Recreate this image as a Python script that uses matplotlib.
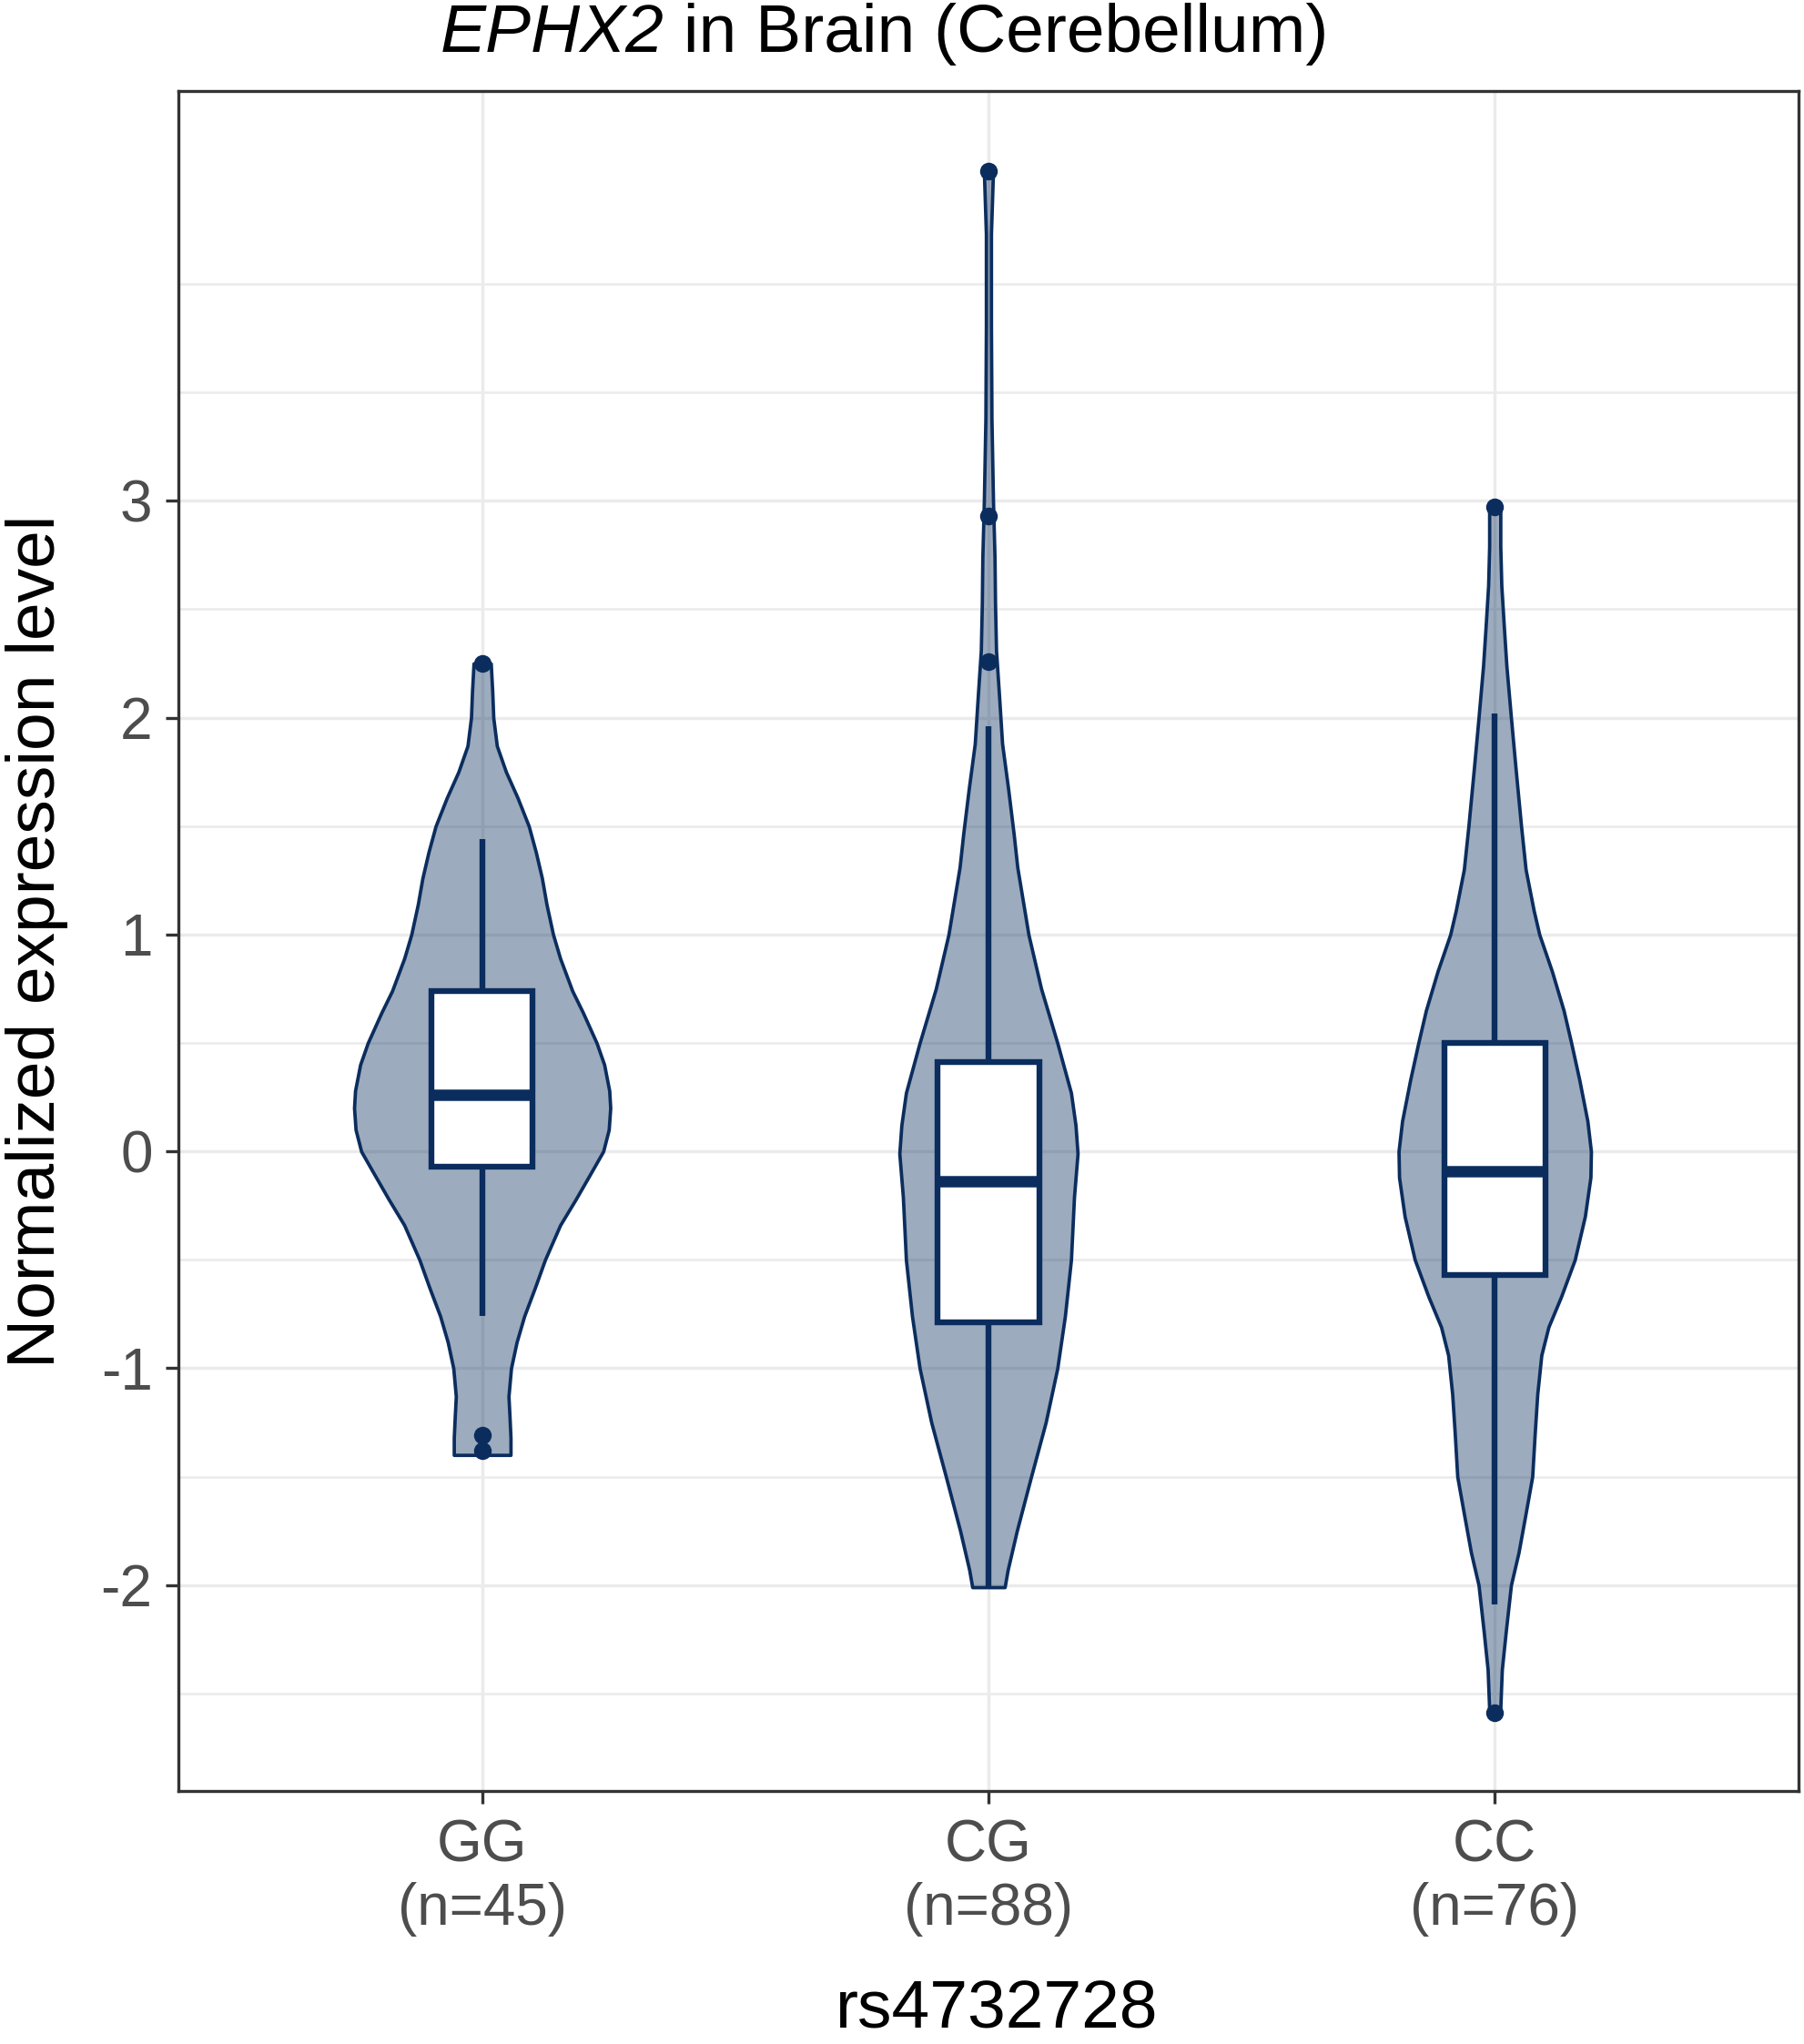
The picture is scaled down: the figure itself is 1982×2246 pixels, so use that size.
import numpy as np
import matplotlib
matplotlib.use("Agg")
import matplotlib.pyplot as plt

plt.rcParams['font.family'] = ['Liberation Sans', 'DejaVu Sans']

genotypes = ["GG", "CG", "CC"]
counts = [45, 88, 76]

# box plot stats
q1 = [-0.07, -0.79, -0.57]
med = [0.26, -0.14, -0.09]
q3 = [0.74, 0.41, 0.50]
whis_lo = [-0.76, -2.01, -2.09]
whis_hi = [1.44, 1.96, 2.02]
outliers = [[2.25, -1.31, -1.38], [4.52, 2.93, 2.26], [2.97, -2.59]]

# violin outlines: y value and half width (category units)
gg_y = [2.25, 2.12, 2.00, 1.87, 1.75, 1.63, 1.50, 1.38, 1.26, 1.14, 1.00, 0.89,
        0.74, 0.64, 0.50, 0.40, 0.28, 0.20, 0.10, 0.00, -0.09, -0.22, -0.34,
        -0.50, -0.63, -0.76, -0.88, -1.00, -1.13, -1.22, -1.32, -1.40]
gg_w = [0.017, 0.020, 0.022, 0.029, 0.047, 0.070, 0.092, 0.106, 0.118, 0.127,
        0.140, 0.154, 0.178, 0.199, 0.226, 0.241, 0.251, 0.253, 0.250, 0.239,
        0.217, 0.185, 0.154, 0.124, 0.104, 0.083, 0.068, 0.057, 0.052, 0.054,
        0.056, 0.056]

cg_y = [4.52, 4.23, 3.81, 3.38, 3.00, 2.74, 2.53, 2.31, 2.10, 1.88, 1.67, 1.46,
        1.31, 1.00, 0.75, 0.50, 0.27, 0.12, -0.01, -0.21, -0.50, -0.76, -1.00,
        -1.25, -1.51, -1.75, -1.93, -2.01]
cg_w = [0.009, 0.005, 0.005, 0.006, 0.009, 0.012, 0.013, 0.015, 0.021, 0.027,
        0.039, 0.050, 0.057, 0.079, 0.104, 0.136, 0.163, 0.172, 0.176, 0.169,
        0.163, 0.151, 0.136, 0.113, 0.083, 0.056, 0.038, 0.032]

cc_y = [2.97, 2.79, 2.61, 2.42, 2.24, 2.00, 1.77, 1.50, 1.30, 1.11, 1.00, 0.83,
        0.65, 0.50, 0.33, 0.14, 0.00, -0.12, -0.30, -0.50, -0.67, -0.81, -0.94,
        -1.12, -1.30, -1.50, -1.67, -1.85, -2.00, -2.21, -2.39, -2.57, -2.59]
cc_w = [0.011, 0.011, 0.013, 0.018, 0.023, 0.032, 0.041, 0.052, 0.061, 0.077,
        0.088, 0.113, 0.136, 0.151, 0.167, 0.183, 0.190, 0.189, 0.178, 0.158,
        0.131, 0.106, 0.092, 0.084, 0.079, 0.074, 0.061, 0.047, 0.032, 0.022,
        0.014, 0.011, 0.011]

navy = "#0B2D5E"

W, H = 1983, 2246
fig = plt.figure(figsize=(W / 100, H / 100), dpi=100)
ax = fig.add_axes([196 / W, 1 - 1968 / H, (1976 - 196) / W, (1968 - 100) / H])
ax.set_xlim(0.4, 3.6)
ax.set_ylim(-2.95, 4.89)

violins = [(gg_y, gg_w), (cg_y, cg_w), (cc_y, cc_w)]
for i, (vy, vw) in enumerate(violins):
    pos = i + 1
    vw = np.array(vw)
    ax.fill_betweenx(vy, pos - vw, pos + vw, facecolor=(0.043, 0.176, 0.369, 0.4),
                     edgecolor=navy, linewidth=2.7, joinstyle="round", zorder=2)

stats = []
for i in range(3):
    stats.append(dict(med=med[i], q1=q1[i], q3=q3[i], whislo=whis_lo[i],
                      whishi=whis_hi[i], fliers=outliers[i]))
ax.bxp(stats, positions=[1, 2, 3], widths=0.2, showcaps=False, patch_artist=True,
       boxprops=dict(facecolor="white", edgecolor=navy, linewidth=4.6),
       whiskerprops=dict(color=navy, linewidth=4.6, solid_capstyle="butt"),
       medianprops=dict(color=navy, linewidth=9, solid_capstyle="butt"),
       flierprops=dict(marker="o", markerfacecolor=navy, markeredgecolor=navy,
                       markersize=13),
       zorder=3)

ax.set_xticks([1, 2, 3])
ax.set_xticklabels(["{}\n(n={})".format(g, n) for g, n in zip(genotypes, counts)])
ax.set_yticks([-2, -1, 0, 1, 2, 3])
ax.set_yticklabels(["-2", "-1", "0", "1", "2", "3"])
ax.set_yticks([-2.5, -1.5, -0.5, 0.5, 1.5, 2.5, 3.5, 4.0], minor=True)

ax.set_axisbelow(True)
ax.grid(which="major", color="#EBEBEB", linewidth=2.5)
ax.grid(which="minor", axis="y", color="#EBEBEB", linewidth=1.8)
for s in ax.spines.values():
    s.set_color("#333333")
    s.set_linewidth(2.4)

ax.tick_params(axis="both", which="major", length=10, width=2.4, color="#333333",
               labelsize=46, labelcolor="#4D4D4D")
ax.tick_params(axis="y", which="major", pad=10.5)
ax.tick_params(axis="x", which="major", pad=12)
ax.tick_params(which="minor", length=0)

# title: italic gene name followed by plain text
t1 = fig.text(484 / W, 1 - 57 / H, "EPHX2", style="italic",
              ha="left", va="baseline", fontsize=54)
renderer = fig.canvas.get_renderer()
bb = t1.get_window_extent(renderer=renderer)
fig.text(bb.x1 / W, 1 - 57 / H, " in Brain (Cerebellum)",
         ha="left", va="baseline", fontsize=54)

fig.text(6 / W, 1 - 1034 / H, "Normalized expression level", rotation=90,
         ha="left", va="center", fontsize=54)
fig.text(1095 / W, 1 - 2228 / H, "rs4732728", ha="center", va="baseline",
         fontsize=54)

fig.savefig("out.png", dpi=100)
